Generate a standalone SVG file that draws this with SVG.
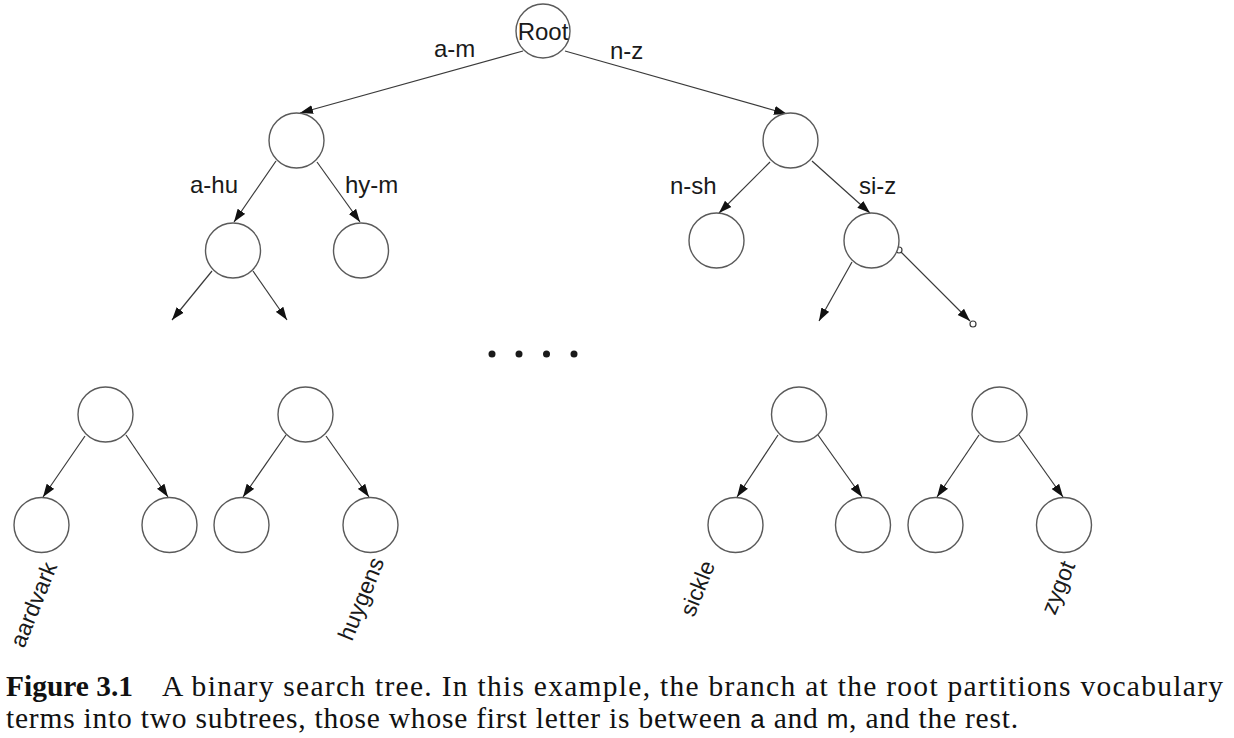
<svg xmlns="http://www.w3.org/2000/svg" width="1234" height="738" viewBox="0 0 1234 738">
<style>
.n{fill:#fff;stroke:#5a5a5a;stroke-width:1.4}
.e{stroke:#3a3a3a;stroke-width:1.2;fill:none;marker-end:url(#ah)}
.lb{font-family:"Liberation Sans",Arial,sans-serif;font-size:24px;fill:#1a1a1a}
.rl{font-family:"Liberation Sans",Arial,sans-serif;font-size:23px;fill:#1a1a1a}
.cap{font-family:"Liberation Serif","Times New Roman",serif;font-size:29.5px;fill:#111}
.sc{fill:#fff;stroke:#3a3a3a;stroke-width:1.2}
.dot{fill:#1a1a1a}
</style>
<defs>
<marker id="ah" markerUnits="userSpaceOnUse" markerWidth="14" markerHeight="10" viewBox="0 0 14 10" refX="13" refY="5" orient="auto">
<path d="M0,0.5 L13,5 L0,9.5 Z" fill="#111"/>
</marker>
</defs>
<g id="connectors">
<line class="e" x1="523" y1="51" x2="300" y2="113"/>
<line class="e" x1="565" y1="51" x2="787" y2="114"/>
<line class="e" x1="276" y1="161" x2="234" y2="222"/>
<line class="e" x1="317" y1="162" x2="360" y2="222"/>
<line class="e" x1="212" y1="271" x2="172" y2="320"/>
<line class="e" x1="253" y1="271" x2="287" y2="320"/>
<line class="e" x1="770" y1="162" x2="719" y2="213"/>
<line class="e" x1="812" y1="161" x2="870" y2="213"/>
<line class="e" x1="852" y1="262" x2="819" y2="321"/>
<line class="e" x1="901" y1="252" x2="970" y2="321"/>
<circle class="sc" cx="899" cy="250" r="3"/>
<circle class="sc" cx="973" cy="324" r="3"/>
<line class="e" x1="85" y1="436" x2="43" y2="497"/>
<line class="e" x1="126" y1="435" x2="168" y2="497"/>
<line class="e" x1="286" y1="435" x2="243" y2="497"/>
<line class="e" x1="326" y1="436" x2="369" y2="497"/>
<line class="e" x1="778" y1="435" x2="737" y2="497"/>
<line class="e" x1="818" y1="435" x2="862" y2="497"/>
<line class="e" x1="979" y1="435" x2="937" y2="497"/>
<line class="e" x1="1019" y1="435" x2="1063" y2="497"/>
</g>
<g id="edge-labels">
<text class="lb" x="434" y="57">a-m</text>
<text class="lb" x="610" y="59">n-z</text>
<text class="lb" x="190" y="193">a-hu</text>
<text class="lb" x="345" y="193">hy-m</text>
<text class="lb" x="670" y="194">n-sh</text>
<text class="lb" x="859" y="194">si-z</text>
</g>
<g id="root"><circle class="n" cx="543" cy="31" r="27"/><text class="lb" x="543" y="40" text-anchor="middle">Root</text></g>
<g id="n1"><circle class="n" cx="296.5" cy="140.5" r="27.5"/></g>
<g id="n2"><circle class="n" cx="790.5" cy="140.5" r="27.5"/></g>
<g id="n3"><circle class="n" cx="233" cy="250.5" r="27.5"/></g>
<g id="n4"><circle class="n" cx="361" cy="250.5" r="27.5"/></g>
<g id="n5"><circle class="n" cx="716.5" cy="240.5" r="27.5"/></g>
<g id="n6"><circle class="n" cx="871.5" cy="240.5" r="27.5"/></g>
<g id="ellipsis">
<circle class="dot" cx="492" cy="354" r="3.5"/>
<circle class="dot" cx="519" cy="354" r="3.5"/>
<circle class="dot" cx="546.5" cy="354" r="3.5"/>
<circle class="dot" cx="574" cy="354" r="3.5"/>
</g>
<g id="b1"><circle class="n" cx="105.5" cy="414.5" r="27.5"/></g>
<g id="b2"><circle class="n" cx="305.5" cy="414.5" r="27.5"/></g>
<g id="b3"><circle class="n" cx="799" cy="414.5" r="27.5"/></g>
<g id="b4"><circle class="n" cx="999.5" cy="414.5" r="27.5"/></g>
<g id="leaf-aardvark"><circle class="n" cx="41.5" cy="525" r="27.5"/><text class="rl" transform="translate(24,649) rotate(-68)">aardvark</text></g>
<g id="leaf2"><circle class="n" cx="169.5" cy="525" r="27.5"/></g>
<g id="leaf3"><circle class="n" cx="241.5" cy="525" r="27.5"/></g>
<g id="leaf-huygens"><circle class="n" cx="370.5" cy="525" r="27.5"/><text class="rl" transform="translate(352,642) rotate(-68)">huygens</text></g>
<g id="leaf-sickle"><circle class="n" cx="735.5" cy="525" r="27.5"/><text class="rl" transform="translate(694,618) rotate(-68)">sickle</text></g>
<g id="leaf6"><circle class="n" cx="863" cy="525" r="27.5"/></g>
<g id="leaf7"><circle class="n" cx="935.5" cy="525" r="27.5"/></g>
<g id="leaf-zygot"><circle class="n" cx="1064" cy="525" r="27.5"/><text class="rl" transform="translate(1055,616) rotate(-68)">zygot</text></g>
<g id="caption">
<text class="cap" x="6" y="696" font-weight="bold" textLength="127" lengthAdjust="spacingAndGlyphs">Figure 3.1</text>
<text class="cap" x="162" y="696" textLength="1061" lengthAdjust="spacing">A binary search tree. In this example, the branch at the root partitions vocabulary</text>
<text class="cap" x="6" y="728" textLength="1012" lengthAdjust="spacing">terms into two subtrees, those whose first letter is between <tspan font-family="Liberation Sans, Arial, sans-serif" font-size="26">a</tspan> and <tspan font-family="Liberation Sans, Arial, sans-serif" font-size="26">m</tspan>, and the rest.</text>
</g>
</svg>
